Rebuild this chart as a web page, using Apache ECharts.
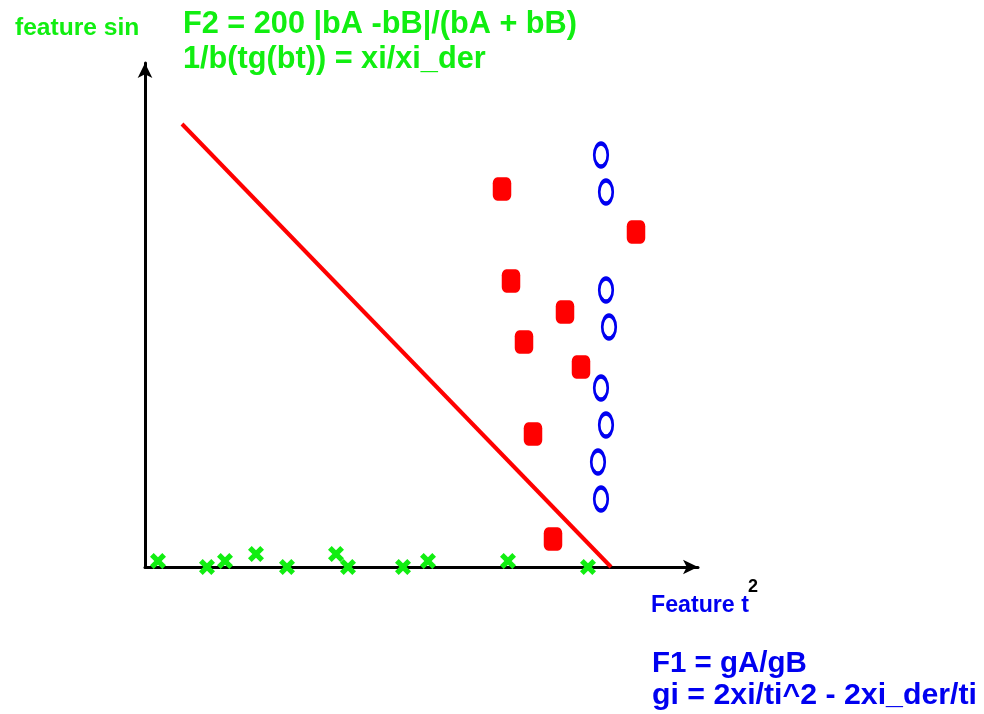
<!DOCTYPE html>
<html>
<head>
<meta charset="utf-8">
<script src="https://cdn.jsdelivr.net/npm/echarts@6/dist/echarts.min.js"></script>
<style>html,body{margin:0;padding:0;background:#fff;}#c{width:984px;height:714px;}</style>
</head>
<body>
<div id="c"></div>
<script>
// Class "green" (crosses): [feature t^2, feature sin]
var greenX = [13, 62, 80, 111, 142, 191, 203, 258, 283, 363, 443];
var greenY = [6, 0, 6, 13, 0, 13, 0, 0, 6, 6, 0];
// Class "red" (squares)
var redX = [357, 491, 366, 420, 379, 436, 388, 408];
var redY = [378, 335, 286, 255, 225, 200, 133, 28];
// Class "blue" (ellipses)
var blueX = [456, 461, 461, 464, 456, 461, 453, 456];
var blueY = [412, 375, 277, 240, 179, 142, 105, 68];
// Separating line endpoints
var sepX = [37, 466];
var sepY = [443, 0];

var texts = {
  yName: 'feature sin',
  f2a: 'F2 = 200 |bA -bB|/(bA + bB)',
  f2b: '1/b(tg(bt)) = xi/xi_der',
  xName: 'Feature t',
  xSup: '2',
  f1a: 'F1 = gA/gB',
  f1b: 'gi = 2xi/ti^2 - 2xi_der/ti'
};

function zip(a, b) { return a.map(function (v, i) { return [v, b[i]]; }); }

var GREEN = '#11ee11', RED = '#ff0000', BLUE = '#0000f0';
var FF = '"Liberation Sans", Arial, sans-serif';
var crossPath = 'path://M0,2.3 L2.3,0 L5,2.7 L7.7,0 L10,2.3 L7.3,5 L10,7.7 L7.7,10 L5,7.3 L2.3,10 L0,7.7 L2.7,5 Z';

var chart = echarts.init(document.getElementById('c'));
var axisCommon = {
  type: 'value',
  splitLine: { show: false },
  axisTick: { show: false },
  axisLabel: { show: false },
  axisLine: {
    show: true,
    symbol: ['none', 'arrow'],
    symbolSize: [11, 15],
    lineStyle: { color: '#000', width: 3 }
  }
};
chart.setOption({
  animation: false,
  backgroundColor: '#fff',
  grid: { left: 145, right: 286, top: 63, bottom: 147, containLabel: false },
  xAxis: Object.assign({}, axisCommon, { min: 0, max: 553 }),
  yAxis: Object.assign({}, axisCommon, { min: 0, max: 504 }),
  series: [
    {
      type: 'line',
      data: zip(sepX, sepY),
      symbol: 'none',
      lineStyle: { color: RED, width: 4 },
      z: 1
    },
    {
      type: 'scatter',
      data: zip(redX, redY),
      symbol: 'roundRect',
      symbolSize: [18.5, 23.5],
      itemStyle: { color: RED, opacity: 1 },
      z: 3
    },
    {
      type: 'scatter',
      data: zip(blueX, blueY),
      symbol: 'circle',
      symbolSize: [13.5, 23],
      itemStyle: { color: 'rgba(255,255,255,0)', borderColor: BLUE, borderWidth: 3.5, opacity: 1 },
      z: 3
    },
    {
      type: 'scatter',
      data: zip(greenX, greenY),
      symbol: crossPath,
      symbolSize: [16, 16],
      itemStyle: { color: GREEN, opacity: 1 },
      z: 4
    }
  ],
  graphic: [
    { type: 'text', left: 15, top: 16, style: { text: texts.yName, font: 'bold 24.6px ' + FF, fill: GREEN } },
    { type: 'text', left: 183, top: 9, style: { text: texts.f2a, font: 'bold 30.7px ' + FF, fill: GREEN } },
    { type: 'text', left: 183, top: 44, style: { text: texts.f2b, font: 'bold 30.7px ' + FF, fill: GREEN } },
    { type: 'text', left: 651, top: 594, style: { text: texts.xName, font: 'bold 23.2px ' + FF, fill: BLUE } },
    { type: 'text', left: 748, top: 578, style: { text: texts.xSup, font: 'bold 18px ' + FF, fill: '#000' } },
    { type: 'text', left: 652, top: 649, style: { text: texts.f1a, font: 'bold 29.5px ' + FF, fill: BLUE } },
    { type: 'text', left: 652, top: 681, style: { text: texts.f1b, font: 'bold 30.3px ' + FF, fill: BLUE } }
  ]
});
</script>
</body>
</html>
